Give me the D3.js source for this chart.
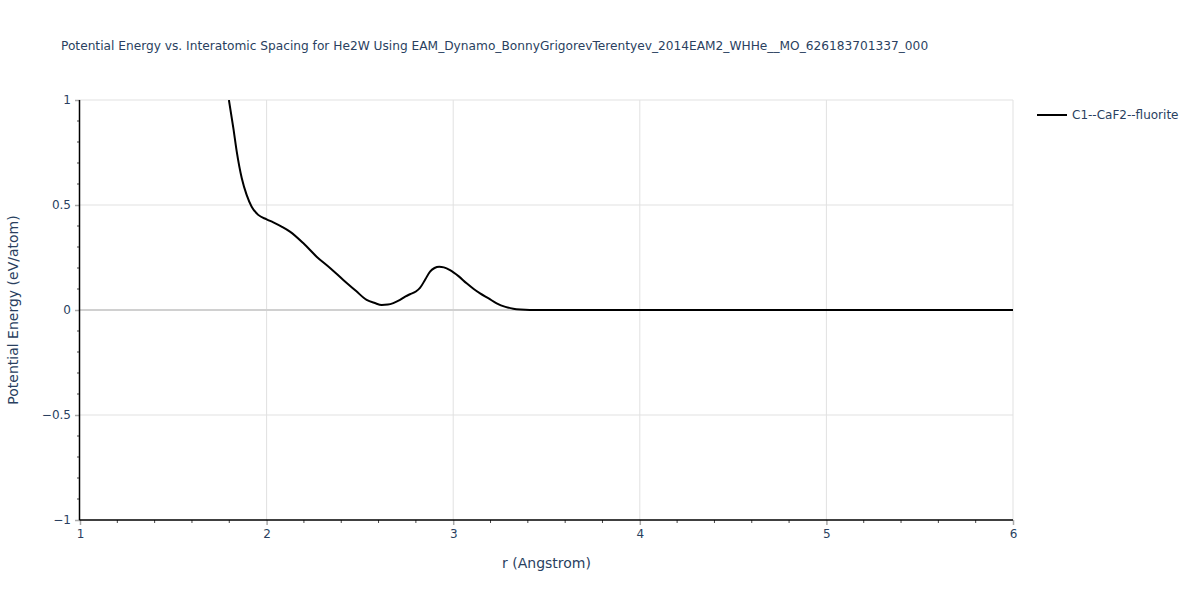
<!DOCTYPE html>
<html><head><meta charset="utf-8">
<script src="https://cdn.jsdelivr.net/npm/d3@7"></script>
<style>body{margin:0;background:#fff;font-family:"DejaVu Sans",sans-serif;}</style>
</head><body><svg id="c" width="1200" height="600"></svg>
<script>
const titleText = "Potential Energy vs. Interatomic Spacing for He2W Using EAM_Dynamo_BonnyGrigorevTerentyev_2014EAM2_WHHe__MO_626183701337_000";
const seriesName = "C1--CaF2--fluorite";
const rValues = [1.798,1.822,1.84,1.867,1.893,1.92,1.955,2.0,2.036,2.08,2.125,2.2,2.268,2.34,2.411,2.48,2.536,2.58,2.617,2.65,2.679,2.715,2.745,2.768,2.8,2.822,2.85,2.876,2.9,2.925,2.95,2.983,3.03,3.072,3.11,3.144,3.19,3.233,3.28,3.322,3.36,3.41,3.5,4.0,4.5,5.0,5.5,6.0];
const energyValues = [1.0,0.865,0.754,0.627,0.548,0.492,0.453,0.432,0.417,0.397,0.373,0.315,0.254,0.2,0.143,0.09,0.048,0.033,0.024,0.026,0.033,0.048,0.065,0.075,0.088,0.105,0.145,0.183,0.2,0.206,0.203,0.19,0.16,0.127,0.1,0.079,0.055,0.032,0.015,0.006,0.002,0.0,0.0,0.0,0.0,0.0,0.0,0.0];
const xTicks = [1,2,3,4,5,6];
const yTicks = [-1,-0.5,0,0.5,1];

const FONT = "DejaVu Sans";
const svg = d3.select("#c");
const m = {l:80, r:187, t:100, b:80};
const W = 1200, H = 600;
const x = d3.scaleLinear().domain([1,6]).range([m.l, W-m.r]);
const y = d3.scaleLinear().domain([-1,1]).range([H-m.b, m.t]);
const txt = "#2a3f5f";

// grid
svg.append("g").selectAll("line").data(xTicks.filter(d=>d!==1)).join("line")
  .attr("x1",d=>x(d)).attr("x2",d=>x(d)).attr("y1",y(1)).attr("y2",y(-1))
  .attr("stroke","#e1e1e1").attr("stroke-width",1);
svg.append("g").selectAll("line").data(yTicks.filter(d=>d!==0 && d!==-1)).join("line")
  .attr("x1",x(1)).attr("x2",x(6)).attr("y1",d=>y(d)).attr("y2",d=>y(d))
  .attr("stroke","#e1e1e1").attr("stroke-width",1);
// zero line
svg.append("line").attr("x1",x(1)).attr("x2",x(6)).attr("y1",y(0)).attr("y2",y(0))
  .attr("stroke","#d0d0d0").attr("stroke-width",2);

// axes
const xAxis = d3.axisBottom(x).tickValues(xTicks).tickFormat(d3.format("d")).tickSize(5).tickPadding(4);
const gx = svg.append("g").attr("transform",`translate(0,${y(-1)})`).call(xAxis);
gx.select(".domain").remove();
gx.selectAll(".tick line").attr("stroke","#aaa").attr("stroke-width",1.5);
gx.selectAll("text").attr("fill",txt).style("font-size","12px").style("font-family",FONT);
const xMinor = d3.range(1,6.001,0.2).filter(v=>Math.abs(v-Math.round(v))>1e-6);
svg.append("g").selectAll("line").data(xMinor).join("line")
  .attr("x1",d=>x(d)).attr("x2",d=>x(d)).attr("y1",y(-1)).attr("y2",y(-1)+3)
  .attr("stroke","#444").attr("stroke-width",1);

const yFmt = d => d===0 ? "0" : (d<0 ? "\u2212"+Math.abs(d) : String(d));
const yAxis = d3.axisLeft(y).tickValues(yTicks).tickFormat(yFmt).tickSize(5).tickPadding(4);
const gy = svg.append("g").attr("transform",`translate(${x(1)},0)`).call(yAxis);
gy.select(".domain").remove();
gy.selectAll(".tick line").attr("stroke","#aaa").attr("stroke-width",1.5);
gy.selectAll("text").attr("fill",txt).style("font-size","12px").style("font-family",FONT);
const yMinor = d3.range(-1,1.001,0.1).filter(v=>Math.abs(v*2-Math.round(v*2))>1e-6);
svg.append("g").selectAll("line").data(yMinor).join("line")
  .attr("x1",x(1)-3).attr("x2",x(1)).attr("y1",d=>y(d)).attr("y2",d=>y(d))
  .attr("stroke","#444").attr("stroke-width",1);

// axis lines
svg.append("line").attr("x1",x(1)-0.5).attr("x2",x(6)).attr("y1",y(-1)).attr("y2",y(-1)).attr("stroke","#000").attr("stroke-width",1.5);
svg.append("line").attr("x1",x(1)-0.5).attr("x2",x(1)-0.5).attr("y1",y(1)).attr("y2",y(-1)).attr("stroke","#000").attr("stroke-width",1.5);

// clip
svg.append("clipPath").attr("id","clip").append("rect")
  .attr("x",x(1)).attr("y",y(1)).attr("width",x(6)-x(1)).attr("height",y(-1)-y(1));

const pts = rValues.map((r,i)=>[r,energyValues[i]]);
const line = d3.line().x(d=>x(d[0])).y(d=>y(d[1])).curve(d3.curveMonotoneX);
svg.append("path").datum(pts).attr("d",line).attr("fill","none")
  .attr("stroke","#000").attr("stroke-width",2).attr("clip-path","url(#clip)");

// title
svg.append("text").attr("x",61).attr("y",50).text(titleText)
  .attr("fill",txt).style("font-size","12.2px").style("font-family",FONT);
// axis titles
svg.append("text").attr("x",(x(1)+x(6))/2).attr("y",568).attr("text-anchor","middle")
  .text("r (Angstrom)").attr("fill",txt).style("font-size","14px").style("font-family",FONT);
svg.append("text").attr("transform",`translate(18,${y(0)}) rotate(-90)`).attr("text-anchor","middle")
  .text("Potential Energy (eV/atom)").attr("fill",txt).style("font-size","14px").style("font-family",FONT);

// legend
svg.append("line").attr("x1",1037).attr("x2",1067).attr("y1",115).attr("y2",115)
  .attr("stroke","#000").attr("stroke-width",2);
svg.append("text").attr("x",1072).attr("y",119).text(seriesName)
  .attr("fill",txt).style("font-size","12px").style("font-family",FONT);
</script></body></html>
